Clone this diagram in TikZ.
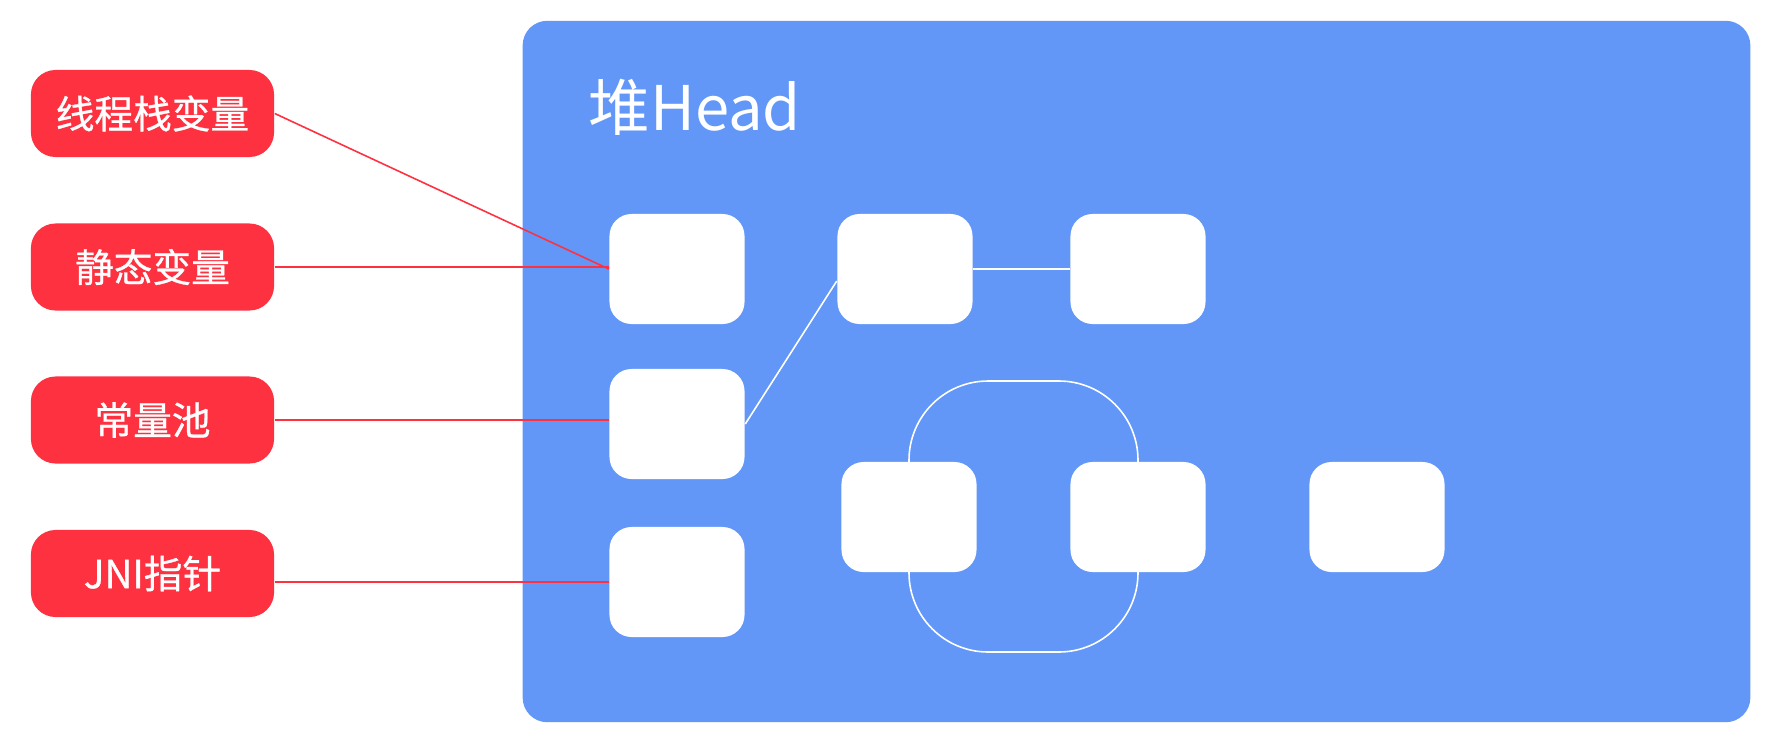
\documentclass[tikz,border=0pt]{standalone}
\usepackage{fontspec}
\setmainfont{Noto Sans CJK SC}
\newfontfamily\rootfont{Noto Sans CJK SC}[FakeBold=0.8]
\definecolor{heapblue}{RGB}{98,151,248}
\definecolor{rootred}{RGB}{254,49,64}
\tikzset{
  root/.style={fill=rootred, text=white, rounded corners=7pt, minimum width=2.43cm, minimum height=0.87cm, inner sep=0pt, font=\fontsize{11}{13}\rootfont},
  obj/.style={fill=white, rounded corners=6.3pt, minimum width=1.35cm, minimum height=1.1cm, inner sep=0pt},
  redline/.style={rootred, line width=0.45pt},
  whiteline/.style={white, line width=0.45pt}
}
\begin{document}
\begin{tikzpicture}[x=0.01cm, y=-0.01cm]
\useasboundingbox (0,0) rectangle (1781,739);
\node[fill=heapblue, rounded corners=7pt, minimum width=12.27cm, minimum height=7.01cm] (heap) at (1136.5,371.5) {};
\node[anchor=base west, inner sep=0pt, text=white, font=\fontsize{17.5}{20}\selectfont] (title) at (588,130) {堆Head};
% ring behind o6 and o7
\coordinate (ringa) at (909,381);
\coordinate (ringb) at (1138,652);
\draw[whiteline, rounded corners=22.5pt] (ringa) rectangle (ringb);
\node[obj] (o1) at (677,269) {};
\node[obj] (o2) at (677,424) {};
\node[obj] (o3) at (677,582) {};
\node[obj] (o4) at (905,269) {};
\node[obj] (o5) at (1138,269) {};
\node[obj] (o6) at (909,517) {};
\node[obj] (o7) at (1138,517) {};
\node[obj] (o8) at (1377,517) {};
\node[root] (stack) at (152.5,113.5) {线程栈变量};
\node[root] (static) at (152.5,267) {静态变量};
\node[root] (const) at (152.5,420) {常量池};
\node[root] (jni) at (152.5,573.5) {JNI指针};
\draw[redline] (stack.east) -- (o1.west);
\draw[redline] (static.east) -- (static.east -| o1.west);
\draw[redline] (const.east) -- (const.east -| o2.west);
\draw[redline] (o3.west) -- (o3.west -| jni.east);
\draw[whiteline] (o2.east) -- (o4.190);
\draw[whiteline] (o4.east) -- (o5.west);
\end{tikzpicture}
\end{document}
